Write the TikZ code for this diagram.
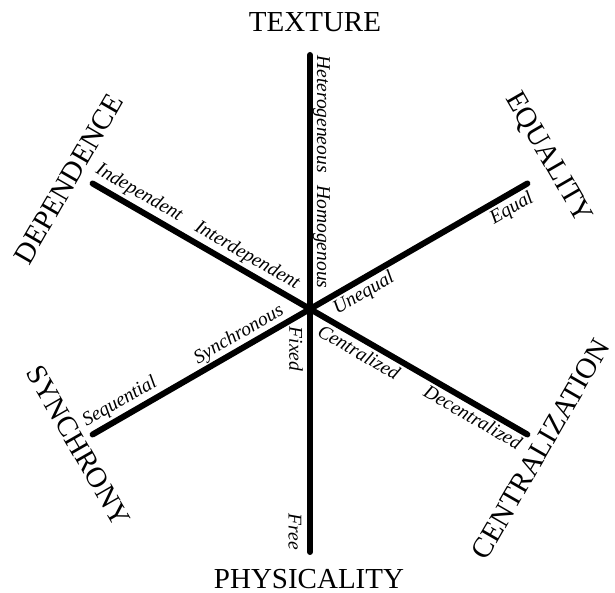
\documentclass[tikz,border=0pt]{standalone}
\usepackage{fontspec}
\setmainfont{Liberation Serif}
\usepackage{tikz}
\tikzset{
axisline/.style={line width=6pt,line cap=round,draw=black},
polename/.style={inner sep=0pt,font=\fontsize{29}{30}\selectfont},
polelabel/.style={inner sep=0pt,font=\fontsize{19.5}{20}\selectfont\itshape}
}
\begin{document}
\begin{tikzpicture}[x=1pt,y=1pt]
\useasboundingbox (-310,-284) rectangle (305,309);
\coordinate (c) at (0,0);
\coordinate (tex) at (0,254);
\coordinate (phy) at (0,-243);
\coordinate (dep) at (150:251);
\coordinate (cen) at (-30:251);
\coordinate (equ) at (30:251);
\coordinate (syn) at (210:251);
\draw[axisline] (tex) -- (phy);
\draw[axisline] (dep) -- (cen);
\draw[axisline] (equ) -- (syn);
% pole names
\node[polename] (texture) at (5,286.5) {TEXTURE};
\node[polename] (physicality) at (-1,-270) {PHYSICALITY};
\node[polename,rotate=60] (dependence) at (-241.5,130) {DEPENDENCE};
\node[polename,rotate=-60] (equality) at (238,151) {EQUALITY};
\node[polename,rotate=-60] (synchrony) at (-231.5,-136.5) {SYNCHRONY};
\node[polename,rotate=60] (centralization) at (230.5,-140) {CENTRALIZATION};
% labels along the axes
\node[polelabel,rotate=-90] (hetero) at (11.5,195) {Heterogeneous};
\node[polelabel,rotate=-90] (homo) at (11.5,72) {Homogenous};
\node[polelabel,rotate=-90] (fixed) at (-14,-40) {Fixed};
\node[polelabel,rotate=-90] (free) at (-15,-223) {Free};
\node[polelabel,rotate=30] (equal) at (202,100) {Equal};
\node[polelabel,rotate=30] (unequal) at (54,15) {Unequal};
\node[polelabel,rotate=-30] (indep) at (-171,116) {Independent};
\node[polelabel,rotate=-30] (interdep) at (-63,53) {Interdependent};
\node[polelabel,rotate=30] (seq) at (-190,-93) {Sequential};
\node[polelabel,rotate=30] (sync) at (-71,-26) {Synchronous};
\node[polelabel,rotate=-30] (central) at (49,-43) {Centralized};
\node[polelabel,rotate=-30] (decentral) at (163,-108) {Decentralized};
\end{tikzpicture}
\end{document}
